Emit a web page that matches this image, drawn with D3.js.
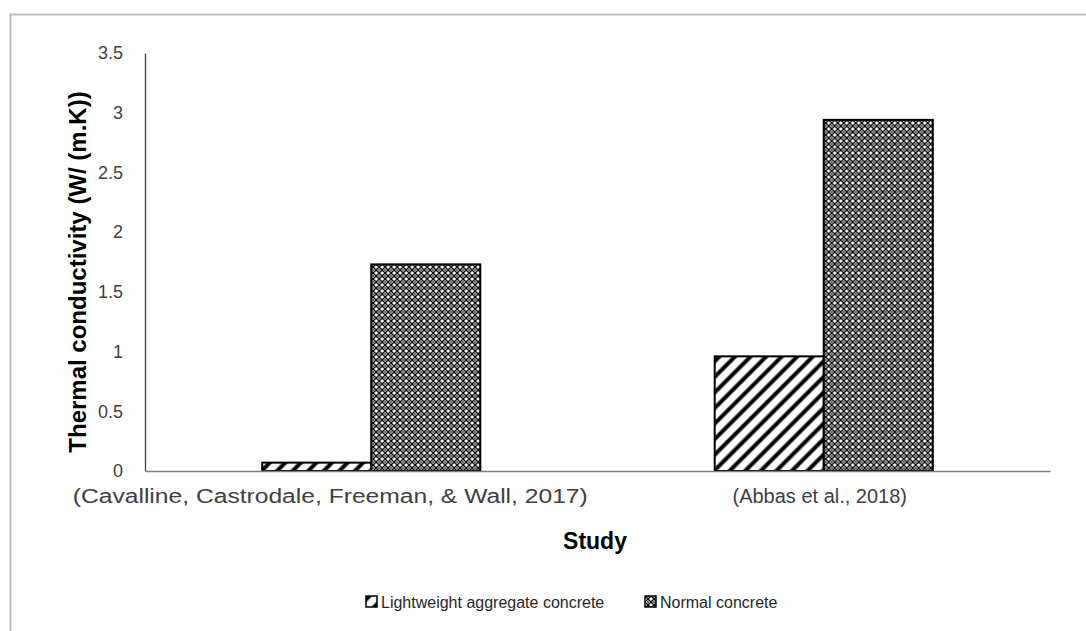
<!DOCTYPE html>
<html>
<head>
<meta charset="utf-8">
<script src="https://cdn.jsdelivr.net/npm/d3@7"></script>
<style>
  body { margin: 0; background: #fff; }
  text { font-family: "Liberation Sans", Arial, sans-serif; fill: #404040; }
</style>
</head>
<body>
<svg id="chart" width="1086" height="631"></svg>
<script>
'use strict';

// data
var studies = ['(Cavalline, Castrodale, Freeman, & Wall, 2017)', '(Abbas et al., 2018)'];
var seriesNames = ['Lightweight aggregate concrete', 'Normal concrete'];
var lightweight = [0.07, 0.96];
var normal = [1.73, 2.94];
var yTicks = [0, 0.5, 1, 1.5, 2, 2.5, 3, 3.5];

var svg = d3.select('#chart');
var defs = svg.append('defs');

// diagonal stripes for lightweight concrete
var stripe = defs.append('pattern').attr('id', 'pat-light')
  .attr('patternUnits', 'userSpaceOnUse').attr('width', 11).attr('height', 11)
  .attr('patternTransform', 'rotate(45)');
stripe.append('rect').attr('width', 11).attr('height', 11).attr('fill', '#fff');
stripe.append('line').attr('x1', 2.5).attr('y1', 0).attr('x2', 2.5).attr('y2', 11)
  .attr('stroke', '#000').attr('stroke-width', 4);

// dense cross hatch for normal concrete
var cross = defs.append('pattern').attr('id', 'pat-normal')
  .attr('patternUnits', 'userSpaceOnUse').attr('width', 6).attr('height', 6);
cross.append('rect').attr('width', 6).attr('height', 6).attr('fill', '#fff');
cross.append('path').attr('d', 'M0,0L6,6M6,0L0,6').attr('stroke', '#000').attr('stroke-width', 1.3);
cross.append('circle').attr('cx', 3).attr('cy', 0).attr('r', 1).attr('fill', '#444');
cross.append('circle').attr('cx', 3).attr('cy', 6).attr('r', 1).attr('fill', '#444');

var fills = ['url(#pat-light)', 'url(#pat-normal)'];

// outer frame
svg.append('rect').attr('x', 10.5).attr('y', 14.5).attr('width', 1100).attr('height', 650)
  .attr('fill', 'none').attr('stroke', '#c0c0c0').attr('stroke-width', 2);

var plotLeft = 145, plotRight = 1050, plotTop = 53, plotBottom = 471;

var x0 = d3.scaleBand().domain(studies).range([plotLeft, plotRight])
  .paddingInner(0.518).paddingOuter(0.259);
var x1 = d3.scaleBand().domain(seriesNames).range([0, x0.bandwidth()]);
var y = d3.scaleLinear().domain([0, 3.5]).range([plotBottom, plotTop]);

var rows = studies.map(function (s, i) {
  return { study: s, values: [lightweight[i], normal[i]] };
});

var groups = svg.append('g').selectAll('g').data(rows).enter().append('g')
  .attr('transform', function (d) { return 'translate(' + x0(d.study) + ',0)'; });

groups.selectAll('rect').data(function (d) {
  return d.values.map(function (v, j) { return { key: seriesNames[j], value: v, idx: j }; });
}).enter().append('rect')
  .attr('x', function (d) { return x1(d.key); })
  .attr('y', function (d) { return y(d.value); })
  .attr('width', x1.bandwidth())
  .attr('height', function (d) { return plotBottom - y(d.value); })
  .attr('fill', function (d) { return fills[d.idx]; })
  .attr('stroke', '#000').attr('stroke-width', 2);

// axes
var yAxis = d3.axisLeft(y).tickValues(yTicks).tickSize(0).tickPadding(22)
  .tickFormat(function (d) { return String(d); });
var gy = svg.append('g').attr('transform', 'translate(' + plotLeft + ',0)').call(yAxis);
gy.select('.domain').attr('stroke', '#404040').attr('stroke-width', 1.3);
gy.selectAll('text').style('font-family', '"Liberation Sans", Arial, sans-serif')
  .style('font-size', '18px').attr('fill', '#404040');

var xAxis = d3.axisBottom(x0).tickSize(0).tickPadding(18);
var gx = svg.append('g').attr('transform', 'translate(0,' + plotBottom + ')').call(xAxis);
gx.select('.domain').attr('stroke', '#808080').attr('stroke-width', 1.3);
// the first label in the original is set wider and further left than its band
var labelShift = [-41, -4];
var labelWidth = [515, 0];
gx.selectAll('text').style('font-family', '"Liberation Sans", Arial, sans-serif')
  .style('font-size', '20px').attr('fill', '#404040')
  .attr('dx', function (d, i) { return labelShift[i]; })
  .each(function (d, i) {
    if (labelWidth[i]) d3.select(this).attr('textLength', labelWidth[i]).attr('lengthAdjust', 'spacingAndGlyphs');
  });

// titles
svg.append('text').attr('transform', 'translate(86,272) rotate(-90)')
  .attr('text-anchor', 'middle').style('font-size', '24px').style('font-weight', 'bold')
  .style('fill', '#000')
  .text('Thermal conductivity (W/ (m.K))');
svg.append('text').attr('x', 595).attr('y', 549).attr('text-anchor', 'middle')
  .style('font-size', '23px').style('font-weight', 'bold').style('fill', '#000')
  .text('Study');

// legend
var legendX = [366, 645];
var legend = svg.append('g').selectAll('g').data(seriesNames).enter().append('g')
  .attr('transform', function (d, i) { return 'translate(' + legendX[i] + ',596)'; });
legend.append('rect').attr('width', 11).attr('height', 11)
  .attr('fill', function (d, i) { return fills[i]; })
  .attr('stroke', '#000').attr('stroke-width', 1.5);
legend.append('text').attr('x', 15).attr('y', 11.5)
  .style('font-size', '16px').style('fill', '#262626')
  .text(function (d) { return d; });
</script>
</body>
</html>
